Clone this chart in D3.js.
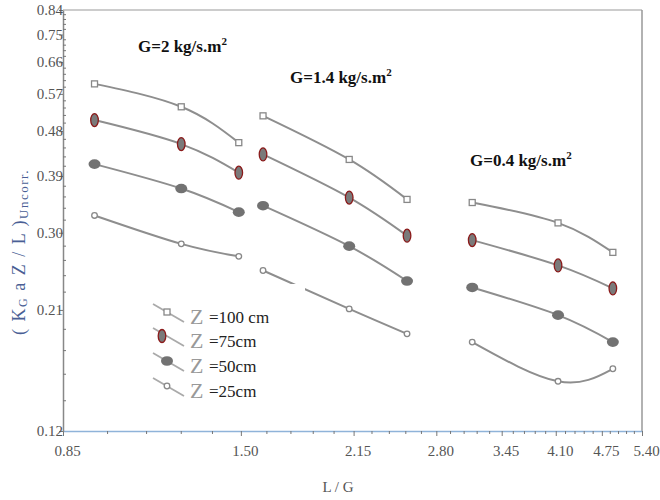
<!DOCTYPE html>
<html><head><meta charset="utf-8">
<script src="https://cdn.jsdelivr.net/npm/d3@7"></script>
<style>body{margin:0;background:#fff}svg{display:block}text{font-family:'Liberation Serif','Times New Roman',Times,serif}</style>
</head><body><svg id="c" width="660" height="500"></svg>
<script>
// ---- data ----
const xTickValues = [0.85, 1.50, 2.15, 2.80, 3.45, 4.10, 4.75, 5.40];
const yTickValues = [0.12, 0.21, 0.30, 0.39, 0.48, 0.57, 0.66, 0.75, 0.84];
const groupNames = ["G=2 kg/s.m", "G=1.4 kg/s.m", "G=0.4 kg/s.m"];
const xG2 = [0.94, 1.24, 1.49];
const xG14 = [1.61, 2.12, 2.55];
const xG04 = [3.14, 4.13, 4.92];
const seriesNames = ["=100 cm", "=75cm", "=50cm", "=25cm"];
const z100 = [[0.597, 0.537, 0.455], [0.515, 0.421, 0.350], [0.345, 0.314, 0.274]];
const z75  = [[0.505, 0.452, 0.396], [0.431, 0.353, 0.296], [0.290, 0.258, 0.232]];
const z50  = [[0.412, 0.368, 0.330], [0.340, 0.282, 0.240], [0.233, 0.205, 0.181]];
const z25  = [[0.325, 0.285, 0.269], [0.252, 0.211, 0.188], [0.181, 0.151, 0.160]];

const groupX = [xG2, xG14, xG04];
const allSeries = [z100, z75, z50, z25];
const markerTypes = ["square", "ellipseV", "blob", "circle"];

const FONT = "'Liberation Serif','Times New Roman',Times,serif";
const svg = d3.select("#c");
const L = 63, R = 642, T = 10, B = 431;
const x = d3.scaleLog().domain([0.85, 5.40]).range([L, R]);
const y = d3.scaleLog().domain([0.12, 0.84]).range([B, T]);
const axisCol = "#777";
const lineCol = "#8e8e8e";

// frame
svg.append("line").attr("x1", L).attr("x2", R).attr("y1", T).attr("y2", T).attr("stroke", "#999").attr("stroke-width", 1.2);
svg.append("line").attr("x1", R).attr("x2", R).attr("y1", T).attr("y2", B).attr("stroke", "#999").attr("stroke-width", 1.5);

// minor ticks
const xMinor = [];
for (let i = 0; i < xTickValues.length - 1; i++) for (let k = 1; k < 5; k++) xMinor.push(xTickValues[i] + (xTickValues[i+1]-xTickValues[i])*k/5);
const yMinor = [];
for (let i = 0; i < yTickValues.length - 1; i++) for (let k = 1; k < 5; k++) yMinor.push(yTickValues[i] + (yTickValues[i+1]-yTickValues[i])*k/5);

const xAxis = svg.append("g").attr("transform", `translate(0,${B})`)
  .call(d3.axisBottom(x).tickValues(xTickValues).tickFormat(d3.format(".2f")).tickSize(5).tickSizeOuter(0));
xAxis.attr("font-family", FONT);
xAxis.select(".domain").attr("stroke", "#8fb3d9").attr("stroke-width", 1.5);
xAxis.selectAll(".tick line").attr("stroke", axisCol);
xAxis.selectAll(".tick text").attr("font-family", FONT).attr("font-size", 15).attr("fill", "#555").attr("dy", "1.15em").attr("dx", 4);
svg.append("g").selectAll("line").data(xMinor).join("line")
  .attr("x1", d => x(d)).attr("x2", d => x(d)).attr("y1", B).attr("y2", B + 3).attr("stroke", axisCol);

const yAxis = svg.append("g").attr("transform", `translate(${L},0)`)
  .call(d3.axisLeft(y).tickValues(yTickValues).tickFormat(d3.format(".2f")).tickSize(4).tickSizeOuter(0));
yAxis.attr("font-family", FONT);
yAxis.select(".domain").attr("stroke", "#888").attr("stroke-width", 1.5);
yAxis.selectAll(".tick line").attr("stroke", axisCol);
yAxis.selectAll(".tick text").attr("font-family", FONT).attr("font-size", 15).attr("fill", "#555").attr("x", 0);
svg.append("g").selectAll("line").data(yMinor).join("line")
  .attr("x1", L).attr("x2", L + 3).attr("y1", d => y(d)).attr("y2", d => y(d)).attr("stroke", axisCol);

// curves
const lineGen = d3.line().x(d => x(d[0])).y(d => y(d[1])).curve(d3.curveNatural);
const plot = svg.append("g");
allSeries.forEach((ser, si) => {
  ser.forEach((vals, gi) => {
    const pts = vals.map((v, i) => [groupX[gi][i], v]);
    plot.append("path").attr("d", lineGen(pts)).attr("fill", "none").attr("stroke", lineCol).attr("stroke-width", 2);
  });
});

function drawMarker(g, type, cx, cy) {
  if (type === "square") {
    g.append("rect").attr("x", cx - 3).attr("y", cy - 3).attr("width", 6).attr("height", 6)
      .attr("fill", "#fff").attr("stroke", "#888").attr("stroke-width", 1.3);
  } else if (type === "ellipseV") {
    g.append("ellipse").attr("cx", cx).attr("cy", cy).attr("rx", 3.8).attr("ry", 6.5)
      .attr("fill", "#7a7a7a").attr("stroke", "#8b1a1a").attr("stroke-width", 1.3);
  } else if (type === "blob") {
    g.append("ellipse").attr("cx", cx).attr("cy", cy).attr("rx", 6).attr("ry", 4.8)
      .attr("fill", "#727272");
  } else {
    g.append("circle").attr("cx", cx).attr("cy", cy).attr("r", 2.8)
      .attr("fill", "#fff").attr("stroke", "#888").attr("stroke-width", 1.3);
  }
}
allSeries.forEach((ser, si) => {
  ser.forEach((vals, gi) => {
    vals.forEach((v, i) => drawMarker(plot, markerTypes[si], x(groupX[gi][i]), y(v)));
  });
});

// legend
const lg = svg.append("g");
lg.append("rect").attr("x", 140).attr("y", 284).attr("width", 165).attr("height", 122).attr("fill", "#fff");
const rowY = [317, 341, 366, 391];
seriesNames.forEach((name, i) => {
  const ty = rowY[i];
  lg.append("line").attr("x1", 153).attr("y1", ty - 13).attr("x2", 184).attr("y2", ty + 5)
    .attr("stroke", "#aaa").attr("stroke-width", 1.8);
  drawMarker(lg, markerTypes[i], i === 1 ? 162 : 167, ty - 5);
  lg.append("text").attr("x", 190).attr("y", ty + 7).attr("font-family", FONT)
    .attr("font-size", 22).attr("fill", "#999").text("Z");
  lg.append("text").attr("x", 209).attr("y", ty + 6).attr("font-family", FONT)
    .attr("font-size", 17).attr("fill", "#222").text(name);
});

// annotations
const annPos = [[138, 52], [290, 83], [470, 166]];
groupNames.forEach((t, i) => {
  const tx = svg.append("text").attr("x", annPos[i][0]).attr("y", annPos[i][1])
    .attr("font-family", FONT).attr("font-weight", "bold").attr("font-size", 17).attr("fill", "#111");
  tx.append("tspan").text(t);
  tx.append("tspan").attr("dy", -7).attr("font-size", 11).text("2");
});

// axis titles
svg.append("text").attr("x", 338).attr("y", 492).attr("text-anchor", "middle")
  .attr("font-family", FONT).attr("font-size", 15).attr("fill", "#555").text("L / G");
const yt = svg.append("text").attr("transform", "translate(25,252) rotate(-90)").attr("text-anchor", "middle")
  .attr("font-family", FONT).attr("font-size", 18).attr("fill", "#4a5f95").attr("letter-spacing", 1.5);
yt.append("tspan").text("( K");
yt.append("tspan").attr("font-size", 12).attr("dy", 2).text("G");
yt.append("tspan").attr("dy", -2).text(" a  Z / L )");
yt.append("tspan").attr("font-size", 13).attr("dy", 3).text("Uncorr.");
</script></body></html>
